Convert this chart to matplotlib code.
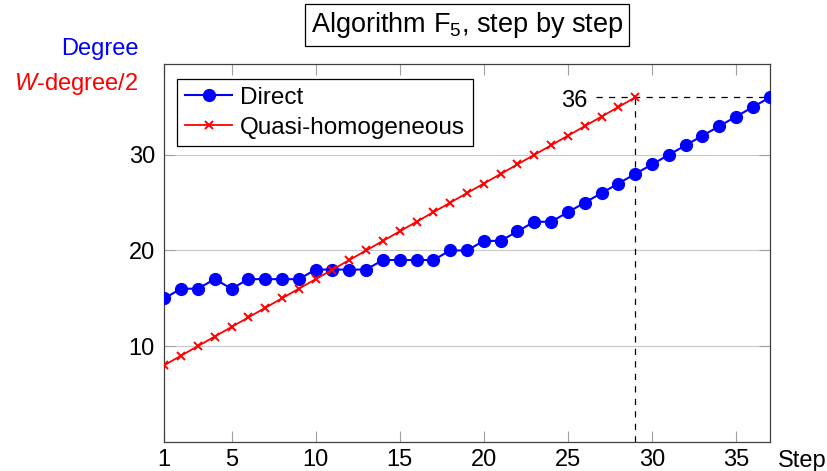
import matplotlib.pyplot as plt

plt.rcParams['font.family'] = ['Liberation Sans', 'DejaVu Sans']
plt.rcParams['mathtext.fontset'] = 'custom'
plt.rcParams['mathtext.rm'] = 'Liberation Sans'
plt.rcParams['mathtext.it'] = 'Liberation Sans:italic'
plt.rcParams['font.size'] = 17

# data
steps = list(range(1, 38))
direct = [15, 16, 16, 17, 16, 17, 17, 17, 17, 18, 18, 18, 18, 19, 19, 19, 19,
          20, 20, 21, 21, 22, 23, 23, 24, 25, 26, 27, 28, 29, 30, 31, 32, 33,
          34, 35, 36]
quasi_steps = list(range(1, 30))
quasi = [8, 9, 10, 11, 12, 13, 14, 15, 16, 17, 18, 19, 20, 21, 22, 23, 24, 25,
         26, 27, 28, 29, 30, 31, 32, 33, 34, 35, 36]
xticks = [1, 5, 10, 15, 20, 25, 30, 35]
yticks = [10, 20, 30]
mark_step, mark_val = 29, 36

W, H = 828, 471
fig = plt.figure(figsize=(W / 100, H / 100), dpi=100)
ax = fig.add_axes([164.3 / W, 1 - 441.7 / H, 605.4 / W, 377.7 / H])

ax.plot(steps, direct, color='blue', marker='o', markersize=8.5, lw=1.5,
        label='Direct', zorder=3)
ax.plot(quasi_steps, quasi, color='red', marker='x', markersize=5.5, mew=1.4,
        lw=1.3, label='Quasi-homogeneous', zorder=3)

# dashed guides to the last quasi-homogeneous point
ax.plot([mark_step, mark_step], [0, mark_val], color='black', lw=0.9,
        ls=(0, (5, 5)), zorder=2)
ax.plot([26.7, 37], [mark_val, mark_val], color='black', lw=0.9,
        ls=(0, (5, 5)), zorder=2)
fig.text(587.7 / W, 1 - 106.7 / H, str(mark_val), ha='right', va='baseline')

ax.set_xlim(1, 37)
ax.set_ylim(0, 39.5)
ax.set_xticks(xticks)
ax.set_yticks(yticks)
ax.yaxis.grid(True, color='#c8c8c8', lw=0.8)
ax.set_axisbelow(True)
ax.tick_params(direction='in', length=8, color='#a0a0a0', width=0.8,
               top=True, right=True)
ax.tick_params(axis='x', pad=5.5)
ax.tick_params(axis='y', pad=6.7)
for s in ax.spines.values():
    s.set_color('#404040')
    s.set_linewidth(0.9)

leg = ax.legend(loc='upper left', bbox_to_anchor=(177.3 / W, 1 - 79 / H),
                bbox_transform=fig.transFigure, borderaxespad=0, fancybox=False,
                edgecolor='black', framealpha=1, handlelength=1.95,
                handletextpad=0.31, labelspacing=0.32, borderpad=0.32,
                prop={'size': 17.5})
leg.get_frame().set_linewidth(0.9)

fig.text(467 / W, 1 - 25 / H, 'Algorithm F$_5$, step by step', fontsize=19.5,
         ha='center', va='center',
         bbox=dict(boxstyle='square,pad=0.22', fc='white', ec='black', lw=0.9))
fig.text(138.3 / W, 1 - 55 / H, 'Degree', color='blue', ha='right',
         va='baseline')
fig.text(138.3 / W, 1 - 90 / H, '$W$-degree$/$2', color='red', ha='right',
         va='baseline')
fig.text(778 / W, 1 - 466.7 / H, 'Step', ha='left', va='baseline')

fig.savefig('out.png', dpi=100)
